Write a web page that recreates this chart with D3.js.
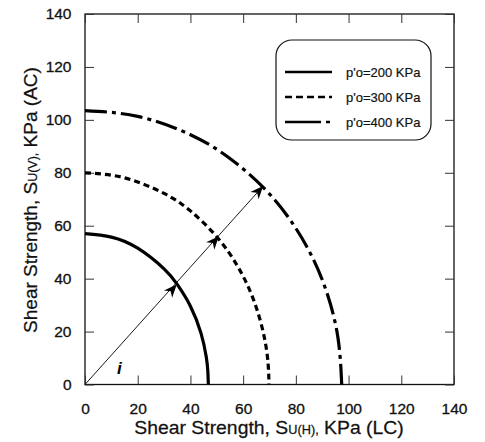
<!DOCTYPE html>
<html><head><meta charset="utf-8">
<script src="https://cdn.jsdelivr.net/npm/d3@7"></script>
<style>body{margin:0;background:#fff}svg{display:block}</style>
</head><body>
<svg id="c" width="485" height="442"></svg>
<script>
const ticks = [0, 20, 40, 60, 80, 100, 120, 140];
const seriesNames = ["p'o=200 KPa", "p'o=300 KPa", "p'o=400 KPa"];
const curve200 = [[0,57],[10,55.7],[20,51.5],[30,43.7],[35,37.8],[40,29.6],[44,19.4],[46,10.5],[46.6,5],[46.8,0]];
const curve300 = [[0,80],[15,78.1],[30,72.2],[40,65.6],[50,55.8],[58,44.5],[64,31.9],[68,18.0],[69.5,7.4],[69.8,0]];
const curve400 = [[0,103.5],[20,101.3],[40,94.4],[55,85.4],[68,74.1],[78,62.0],[86,48.6],[92,34.0],[96,17.5],[97.4,0]];
const arrowLine = [[0,0],[67.6,75]];
const arrowTips = [[34.8,37.8],[50.8,56],[67.6,75]];

const svg = d3.select("#c");
const L = 85, R = 454, T = 14, B = 384.5;
const x = d3.scaleLinear().domain([0,140]).range([L,R]);
const y = d3.scaleLinear().domain([0,140]).range([B,T]);
const font = "'Liberation Sans', Arial, sans-serif";

// frame
svg.append("rect").attr("x",L).attr("y",T).attr("width",R-L).attr("height",B-T)
  .attr("fill","none").attr("stroke","#111").attr("stroke-width",1.3);

// axes with inward ticks
const gB = svg.append("g").attr("transform",`translate(0,${B})`)
  .call(d3.axisBottom(x).tickValues(ticks).tickSize(-9).tickPadding(18).tickFormat(d3.format("d")));
const gL = svg.append("g").attr("transform",`translate(${L},0)`)
  .call(d3.axisLeft(y).tickValues(ticks).tickSize(-9).tickPadding(13.5).tickFormat(d3.format("d")));
const gT = svg.append("g").attr("transform",`translate(0,${T})`)
  .call(d3.axisTop(x).tickValues(ticks).tickSize(-9).tickFormat(""));
const gR = svg.append("g").attr("transform",`translate(${R},0)`)
  .call(d3.axisRight(y).tickValues(ticks).tickSize(-9).tickFormat(""));
[gB,gL,gT,gR].forEach(g=>{
  g.select(".domain").remove();
  g.selectAll(".tick line").attr("stroke","#333").attr("stroke-width",1);
  g.selectAll("text").attr("font-family",font).attr("font-size",15.5).attr("fill","#111")
    .attr("stroke","#111").attr("stroke-width",0.3);
});

const line = d3.line().x(d=>x(d[0])).y(d=>y(d[1])).curve(d3.curveNatural);
const dashes = [null, "6,4", "22,5,4,5"];
[curve200,curve300,curve400].forEach((c,i)=>{
  svg.append("path").attr("d",line(c)).attr("fill","none").attr("stroke","#000")
    .attr("stroke-width",3.2).attr("stroke-dasharray",dashes[i]);
});

// arrow line
svg.append("path").attr("d",d3.line().x(d=>x(d[0])).y(d=>y(d[1]))(arrowLine))
  .attr("stroke","#000").attr("stroke-width",0.9).attr("fill","none");
const ang = Math.atan2(y(arrowLine[1][1])-y(0), x(arrowLine[1][0])-x(0))*180/Math.PI;
arrowTips.forEach(p=>{
  svg.append("path").attr("d","M0,0 L-13,-5.5 L-9,0 L-13,5.5 Z").attr("fill","#000")
    .attr("transform",`translate(${x(p[0])},${y(p[1])}) rotate(${ang})`);
});

// "i" label
svg.append("text").attr("x",x(13)).attr("y",y(4)).attr("font-family",font)
  .attr("font-size",17).attr("font-weight","bold").attr("font-style","italic")
  .attr("text-anchor","middle").text("i");

// legend
const lg = svg.append("g");
lg.append("rect").attr("x",276).attr("y",40).attr("width",155).attr("height",100)
  .attr("rx",16).attr("fill","#fff").attr("stroke","#111").attr("stroke-width",1.2);
const legY = [72, 97, 122];
seriesNames.forEach((n,i)=>{
  lg.append("line").attr("x1",285).attr("x2",332).attr("y1",legY[i]).attr("y2",legY[i])
    .attr("stroke","#000").attr("stroke-width",2.6)
    .attr("stroke-dasharray", i===1 ? "7,4" : (i===2 ? "36,5,4,50" : null));
  lg.append("text").attr("x",346).attr("y",legY[i]+4.5).attr("font-family",font)
    .attr("font-size",13).attr("fill","#111").attr("stroke","#111").attr("stroke-width",0.2).text(n);
});

// axis titles
function title(g, main, sub, rest){
  const t = g.append("text").attr("text-anchor","middle")
    .attr("font-family",font).attr("font-size",19).attr("fill","#111")
    .attr("stroke","#111").attr("stroke-width",0.25);
  t.append("tspan").text(main);
  t.append("tspan").attr("font-size",12.5).text(sub);
  t.append("tspan").text("  " + rest);
  return t;
}
const gx = svg.append("g").attr("transform","translate(269,434) scale(1.02,1)");
title(gx, "Shear Strength, S", "U(H),", "KPa (LC)");
const gy = svg.append("g").attr("transform","translate(37,200) rotate(-90) scale(1.0,1)");
title(gy, "Shear Strength, S", "U(V),", "KPa (AC)");
</script>
</body></html>
